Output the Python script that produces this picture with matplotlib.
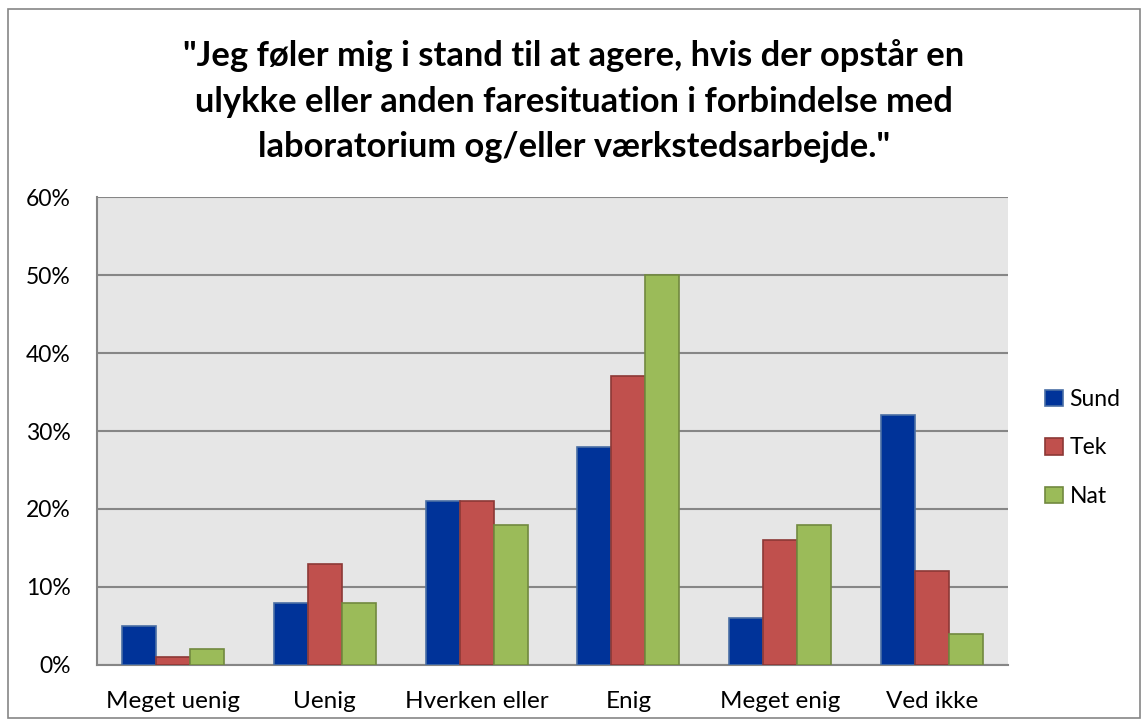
import matplotlib
matplotlib.use("Agg")
import matplotlib.pyplot as plt
import numpy as np
from matplotlib.patches import Rectangle

categories = ["Meget uenig", "Uenig", "Hverken eller", "Enig", "Meget enig", "Ved ikke"]
series_names = ["Sund", "Tek", "Nat"]
sund = [5, 8, 21, 28, 6, 32]
tek = [1, 13, 21, 37, 16, 12]
nat = [2, 8, 18, 50, 18, 4]
yticks = [0, 10, 20, 30, 40, 50, 60]
title = '"Jeg føler mig i stand til at agere, hvis der opstår en\nulykke eller anden faresituation i forbindelse med\nlaboratorium og/eller værkstedsarbejde."'

plt.rcParams['font.family'] = ['Lato', 'DejaVu Sans']

fig = plt.figure(figsize=(11.48, 7.27), dpi=100)
ax = fig.add_axes([0.0845, 0.0853, 0.7935, 0.6437])
ax.set_facecolor('#E6E6E6')

fills = ['#003399', '#C0504D', '#9BBB59']
edges = ['#4A6FA5', '#8C3836', '#71893F']
x = np.arange(len(categories))
w = 0.224
for i, (vals, name) in enumerate(zip([sund, tek, nat], series_names)):
    ax.bar(x + (i - 1) * w, vals, w, color=fills[i], edgecolor=edges[i],
           linewidth=1.2, label=name, zorder=3)

ax.set_xlim(-0.5, len(categories) - 0.5)
ax.set_ylim(0, 60)
ax.set_yticks(yticks)
ax.set_yticklabels([f"{t}%" for t in yticks], fontsize=16.5)
ax.set_xticks(x)
ax.set_xticklabels(categories, fontsize=17.5)
ax.tick_params(axis='y', length=0, pad=19)
ax.tick_params(axis='x', length=0, pad=19)
ax.yaxis.grid(True, color='#868686', linewidth=1.5, zorder=1)
for s in ['top', 'right']:
    ax.spines[s].set_visible(False)
for s in ['left', 'bottom']:
    ax.spines[s].set_color('#868686')
    ax.spines[s].set_linewidth(1.5)

fig.text(0.5, 0.861, title, ha='center', va='center', fontsize=24.8,
         fontweight='bold', linespacing=1.53)

leg = ax.legend(loc='center left', bbox_to_anchor=(1.0185, 0.4637), frameon=False,
                fontsize=16.5, handlelength=0.75, handleheight=0.75,
                handletextpad=0.3, labelspacing=1.2)

fig.patches.append(Rectangle((0.007, 0.012), 0.986, 0.976, transform=fig.transFigure,
                             fill=False, edgecolor='#868686', linewidth=1.2))

fig.savefig('out.png', dpi=100, facecolor='white')
